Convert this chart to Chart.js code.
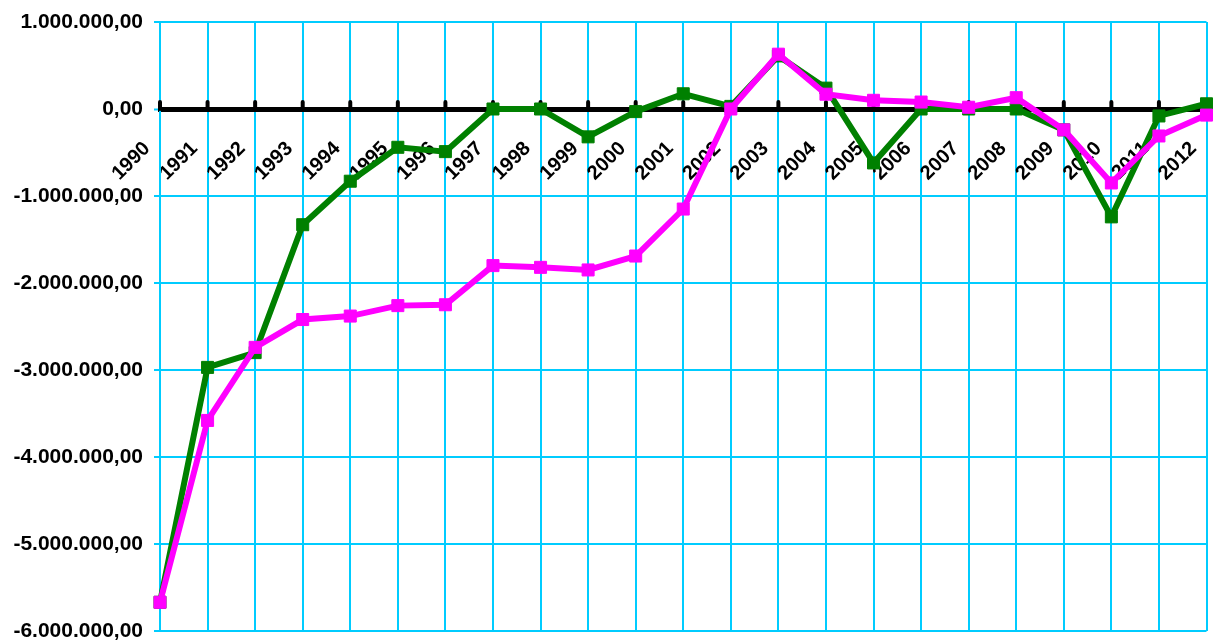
<!DOCTYPE html>
<html>
<head>
<meta charset="utf-8">
<script src="https://cdn.jsdelivr.net/npm/chart.js@4/dist/chart.umd.min.js"></script>
<style>
html,body{margin:0;padding:0;background:#fff;}
#wrap{width:1216px;height:641px;position:relative;}
</style>
</head>
<body>
<div id="wrap"><canvas id="c"></canvas></div>
<script>
const years = ['1990','1991','1992','1993','1994','1995','1996','1997','1998','1999','2000','2001','2002','2003','2004','2005','2006','2007','2008','2009','2010','2011','2012'];
const seriesMagenta = [-5670000,-3580000,-2740000,-2420000,-2380000,-2260000,-2250000,-1800000,-1820000,-1850000,-1690000,-1150000,0,630000,170000,100000,80000,20000,130000,-240000,-850000,-310000,-70000];
const seriesGreen = [-5670000,-2970000,-2800000,-1330000,-830000,-440000,-490000,0,0,-320000,-30000,175000,30000,610000,240000,-620000,0,0,0,-240000,-1240000,-80000,60000];
const yMin = -6000000, yMax = 1000000, yStep = 1000000;

function fmtNum(v){
  const neg = v < 0;
  let s = String(Math.round(Math.abs(v)));
  let out = '';
  while (s.length > 3){ out = '.' + s.slice(-3) + out; s = s.slice(0, -3); }
  out = s + out;
  return (neg ? '-' : '') + out + ',00';
}

const CYAN = '#00ccff';

const zeroTicks = {
  id: 'zeroTicks',
  beforeDatasetsDraw(chart){
    const xs = chart.scales.x, ys = chart.scales.y, ctx = chart.ctx;
    const y0 = ys.getPixelForValue(0);
    ctx.save();
    ctx.strokeStyle = '#000';
    ctx.lineWidth = 4;
    ctx.lineCap = 'round';
    xs.ticks.forEach((t, i) => {
      const px = xs.getPixelForTick(i);
      ctx.beginPath();
      ctx.moveTo(px, y0 - 7);
      ctx.lineTo(px, y0);
      ctx.stroke();
    });
    ctx.restore();
  }
};

new Chart(document.getElementById('c'), {
  type: 'line',
  data: {
    labels: years,
    datasets: [
      {
        data: seriesMagenta,
        borderColor: '#ff00ff',
        backgroundColor: '#ff00ff',
        borderWidth: 6,
        pointStyle: 'rect',
        pointRadius: 8.5,
        pointBorderWidth: 1,
        pointBorderColor: '#ff00ff',
        pointBackgroundColor: '#ff00ff',
        tension: 0,
        clip: false
      },
      {
        data: seriesGreen,
        borderColor: '#008000',
        backgroundColor: '#008000',
        borderWidth: 6,
        pointStyle: 'rect',
        pointRadius: 8.5,
        pointBorderWidth: 1,
        pointBorderColor: '#008000',
        pointBackgroundColor: '#008000',
        tension: 0,
        clip: false
      }
    ]
  },
  options: {
    responsive: true,
    maintainAspectRatio: false,
    animation: false,
    layout: { padding: { top: 22, bottom: 10, right: 2, left: 0 } },
    plugins: { legend: { display: false }, tooltip: { enabled: false } },
    scales: {
      x: {
        type: 'category',
        position: { y: 0 },
        offset: false,
        grid: { color: CYAN, lineWidth: 2, drawTicks: false },
        border: { color: '#000', width: 5 },
        ticks: {
          autoSkip: false,
          minRotation: 45,
          maxRotation: 45,
          padding: 28,
          labelOffset: -13,
          color: '#000',
          font: { family: 'Liberation Sans, Arial, sans-serif', size: 20, weight: 'bold' }
        },
        afterFit(scale){ scale.paddingLeft = 0; scale.paddingRight = 0; scale.paddingTop = 0; scale.paddingBottom = 0; }
      },
      y: {
        min: yMin,
        max: yMax,
        grid: {
          color: ctx => (ctx.tick && ctx.tick.value === 0) ? '#000' : CYAN,
          lineWidth: ctx => (ctx.tick && ctx.tick.value === 0) ? 5 : 2,
          tickColor: CYAN,
          tickWidth: 2,
          tickLength: 6
        },
        border: { color: CYAN, width: 2 },
        ticks: {
          stepSize: yStep,
          padding: 11,
          color: '#000',
          font: { family: 'Liberation Sans, Arial, sans-serif', size: 21, weight: 'bold' },
          callback: v => fmtNum(v)
        },
        afterFit(scale){ scale.width = 160; scale.paddingTop = 0; scale.paddingBottom = 0; }
      }
    }
  },
  plugins: [zeroTicks]
});
</script>
</body>
</html>
